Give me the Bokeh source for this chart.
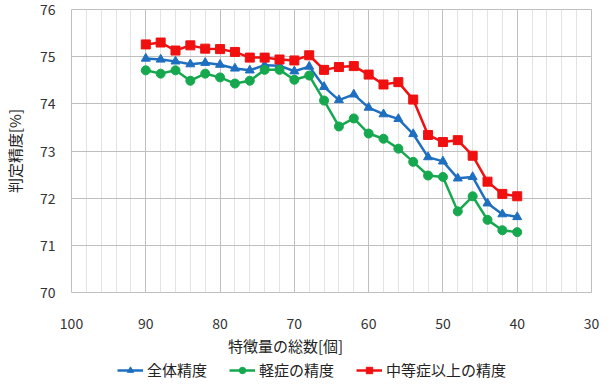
from bokeh.plotting import figure
from bokeh.models import Range1d, FixedTicker, Legend, LegendItem, Label
from bokeh.layouts import column
from bokeh.embed import file_html
from bokeh.resources import INLINE

features = [90, 88, 86, 84, 82, 80, 78, 76, 74, 72, 70, 68, 66, 64, 62, 60, 58, 56, 54, 52, 50, 48, 46, 44, 42, 40]
overall = [74.96, 74.94, 74.90, 74.84, 74.87, 74.83, 74.75, 74.71, 74.82, 74.81, 74.69, 74.79, 74.36, 74.08,
           74.20, 73.92, 73.78, 73.68, 73.36, 72.87, 72.78, 72.42, 72.45, 71.89, 71.66, 71.60]
mild = [74.71, 74.64, 74.71, 74.49, 74.64, 74.56, 74.43, 74.49, 74.72, 74.72, 74.51, 74.60, 74.07, 73.52,
        73.69, 73.37, 73.26, 73.05, 72.77, 72.48, 72.45, 71.72, 72.04, 71.54, 71.32, 71.28]
moderate = [75.26, 75.30, 75.13, 75.24, 75.17, 75.16, 75.10, 74.98, 74.98, 74.94, 74.92, 75.03, 74.72, 74.78,
            74.80, 74.62, 74.41, 74.46, 74.09, 73.34, 73.19, 73.23, 72.90, 72.35, 72.09, 72.04]

names = ["全体精度", "軽症の精度", "中等症以上の精度"]
colors = ["#1F6FC0", "#16A84E", "#F01010"]
markers = ["triangle", "circle", "square"]
sizes = [9, 9, 9]

x_major = [100, 90, 80, 70, 60, 50, 40, 30]
x_minor = list(range(30, 101, 2))
y_major = [70, 71, 72, 73, 74, 75, 76]
x_title = "特徴量の総数[個]"
y_title = "判定精度[%]"

JP = "Noto Sans CJK JP"

p = figure(frame_width=520, frame_height=283, output_backend="svg", toolbar_location=None,
           x_range=Range1d(100, 30), y_range=Range1d(70, 76),
           min_border_left=66, min_border_right=12, min_border_top=9, min_border_bottom=40)
p.outline_line_color = "#BFBFBF"
p.background_fill_color = "white"

p.xaxis.ticker = FixedTicker(ticks=x_major, minor_ticks=x_minor)
p.yaxis.ticker = FixedTicker(ticks=y_major)
for ax in (p.xaxis[0], p.yaxis[0]):
    ax.axis_line_color = None
    ax.major_tick_line_color = None
    ax.minor_tick_line_color = None
    ax.major_label_text_font = JP
    ax.major_label_text_font_size = "14px"
    ax.major_label_text_color = "#333333"
    ax.axis_label_text_font = JP
    ax.axis_label_text_font_size = "15px"
    ax.axis_label_text_font_style = "normal"
    ax.axis_label_text_color = "#222222"
p.yaxis.axis_label = y_title
p.xaxis.major_label_standoff = 19
p.yaxis.major_label_standoff = 10
p.yaxis.axis_label_standoff = 12

p.xgrid.grid_line_color = "#BFBFBF"
p.xgrid.minor_grid_line_color = "#E3E3E3"
p.ygrid.grid_line_color = "#BFBFBF"

# strip below the chart: x-axis title and legend
lf = figure(width=598, height=48, output_backend="svg", toolbar_location=None,
            x_axis_type=None, y_axis_type=None, min_border=0,
            x_range=Range1d(0, 1), y_range=Range1d(0, 1))
lf.outline_line_color = None
lf.xgrid.visible = False
lf.ygrid.visible = False
lf.add_layout(Label(x=214, y=35, x_units="screen", y_units="screen", text=x_title,
                    text_font=JP, text_font_size="15px", text_color="#222222",
                    text_align="center", text_baseline="middle"))

items = []
for ys, name, c, m, s in zip([overall, mild, moderate], names, colors, markers, sizes):
    p.line(features, ys, line_color=c, line_width=2.5)
    p.scatter(features, ys, marker=m, size=s, fill_color=c, line_color=c)
    # same series in the strip; its ranges keep them out of view, they only feed the legend
    l1 = lf.line(features, ys, line_color=c, line_width=2.5)
    l2 = lf.scatter(features, ys, marker=m, size=s - 1, fill_color=c, line_color=c)
    items.append(LegendItem(label=name, renderers=[l1, l2]))

legend = Legend(items=items, orientation="horizontal", location=(46, 0),
                label_text_font=JP, label_text_font_size="15px", label_text_color="#222222",
                border_line_color=None, background_fill_alpha=0,
                glyph_width=26, glyph_height=16, spacing=22, padding=0, margin=0, label_standoff=4,
                label_height=16)
lf.add_layout(legend)

layout = column(p, lf, spacing=0)
open("out.html", "w").write(file_html(layout, INLINE))
